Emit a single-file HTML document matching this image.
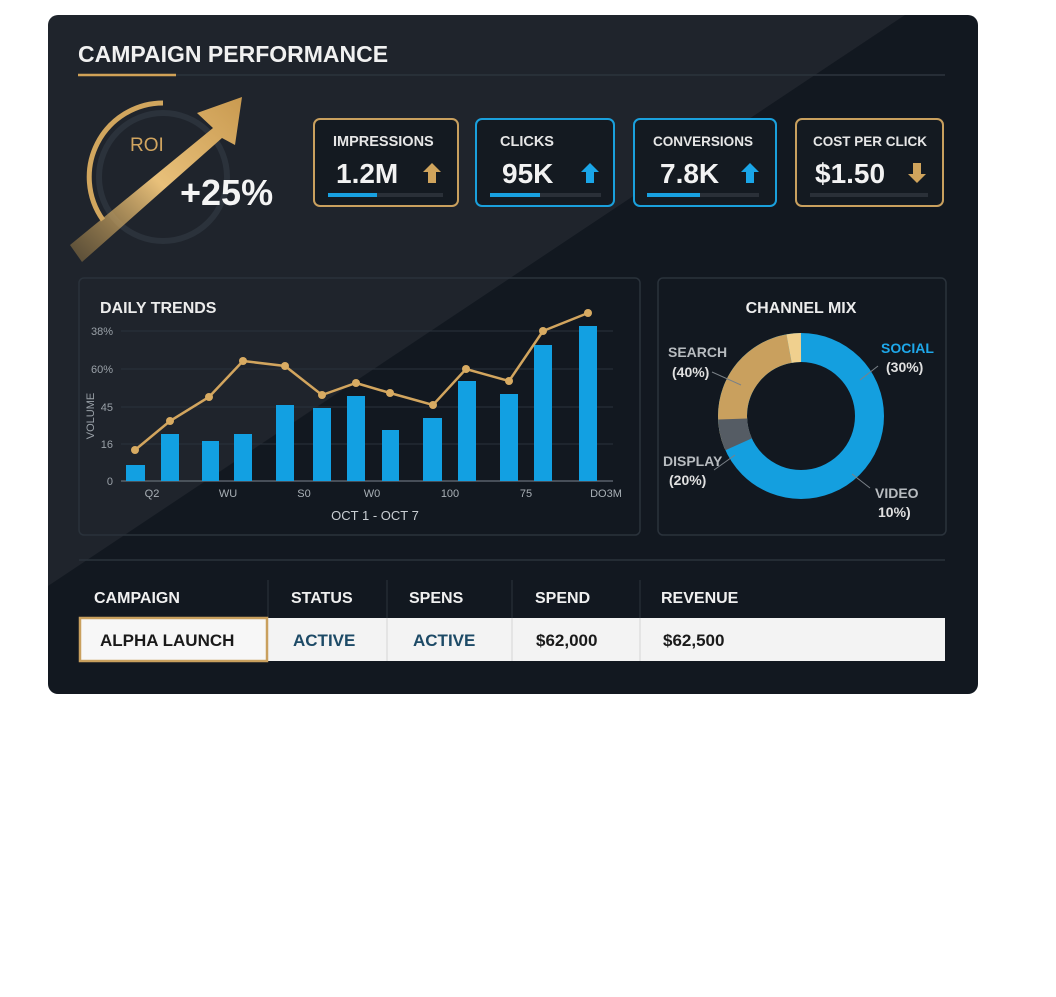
<!DOCTYPE html>
<html><head><meta charset="utf-8"><style>
html,body{margin:0;padding:0;background:#fff;}
body{width:1056px;height:992px;overflow:hidden;}
text{font-family:"Liberation Sans",sans-serif;}
</style></head><body>
<svg width="1056" height="992" viewBox="0 0 1056 992" xmlns="http://www.w3.org/2000/svg">
<defs>
<clipPath id="card"><rect x="48" y="15" width="930" height="679" rx="10"/></clipPath>
<linearGradient id="gold" x1="0" y1="1" x2="1" y2="0">
<stop offset="0" stop-color="#b8904a" stop-opacity="0.35"/>
<stop offset="0.5" stop-color="#e8c07a"/>
<stop offset="1" stop-color="#c99a50"/>
</linearGradient>
</defs>
<rect x="48" y="15" width="930" height="679" rx="10" fill="#121820"/>
<g clip-path="url(#card)">
<polygon points="48,15 905,15 48,586" fill="#ffffff" fill-opacity="0.055"/>
</g>
<text x="78" y="62" font-size="23" font-weight="bold" fill="#f1f1f1">CAMPAIGN PERFORMANCE</text>
<line x1="78" y1="75" x2="945" y2="75" stroke="#2c343d" stroke-width="1.5"/>
<line x1="78" y1="75" x2="176" y2="75" stroke="#d1a257" stroke-width="2.5"/>
<circle cx="163" cy="177" r="64" fill="none" stroke="#2b323b" stroke-width="6"/>
<path d="M163,103 A74,74 0 0 0 103,220" fill="none" stroke="#d1a65e" stroke-width="5"/>
<text x="130" y="151" font-size="19" fill="#d1a560">ROI</text>
<polygon points="70,245 213,128 197,113 242,97 235,145 222,138 82,262" fill="url(#gold)"/>
<text x="180" y="205" font-size="36" font-weight="bold" fill="#f4f4f4">+25%</text>
<g font-weight="bold">
<rect x="314" y="119" width="144" height="87" rx="6" fill="#141a21" stroke="#c9a05e" stroke-width="2"/>
<text x="333" y="146" font-size="14.5" fill="#e6e6e6">IMPRESSIONS</text>
<text x="336" y="183" font-size="28" fill="#f2f2f2">1.2M</text>
<polygon points="432,163 441,172 436,172 436,183 428,183 428,172 423,172" fill="#d0a45c"/>
<rect x="328" y="193" width="115" height="4" fill="#2a3038"/><rect x="328" y="193" width="49" height="4" fill="#18a0e0"/>

<rect x="476" y="119" width="138" height="87" rx="6" fill="#141a21" stroke="#1aa0dc" stroke-width="2"/>
<text x="500" y="146" font-size="14.5" fill="#e6e6e6">CLICKS</text>
<text x="502" y="183" font-size="28" fill="#f2f2f2">95K</text>
<polygon points="590,163 599,172 594,172 594,183 586,183 586,172 581,172" fill="#1aa6e8"/>
<rect x="490" y="193" width="111" height="4" fill="#2a3038"/><rect x="490" y="193" width="50" height="4" fill="#18a0e0"/>

<rect x="634" y="119" width="142" height="87" rx="6" fill="#141a21" stroke="#1aa0dc" stroke-width="2"/>
<text x="653" y="146" font-size="14" fill="#e6e6e6" textLength="100" lengthAdjust="spacingAndGlyphs">CONVERSIONS</text>
<text x="660" y="183" font-size="28" fill="#f2f2f2">7.8K</text>
<polygon points="750,163 759,172 754,172 754,183 746,183 746,172 741,172" fill="#1aa6e8"/>
<rect x="647" y="193" width="112" height="4" fill="#2a3038"/><rect x="647" y="193" width="53" height="4" fill="#18a0e0"/>

<rect x="796" y="119" width="147" height="87" rx="6" fill="#141a21" stroke="#c9a05e" stroke-width="2"/>
<text x="813" y="146" font-size="14" fill="#e6e6e6" textLength="114" lengthAdjust="spacingAndGlyphs">COST PER CLICK</text>
<text x="815" y="183" font-size="28" fill="#f2f2f2">$1.50</text>
<polygon points="917,183 926,174 921,174 921,163 913,163 913,174 908,174" fill="#d0a45c"/>
<rect x="810" y="193" width="118" height="4" fill="#2a3038"/>
</g>
<rect x="79" y="278" width="561" height="257" rx="5" fill="none" stroke="#2a323b" stroke-width="1.5"/>
<rect x="658" y="278" width="288" height="257" rx="5" fill="none" stroke="#2a323b" stroke-width="1.5"/>
<text x="100" y="313" font-size="16" font-weight="bold" fill="#ececec">DAILY TRENDS</text>
<g stroke="#2a323b" stroke-width="1">
<line x1="121" y1="331" x2="613" y2="331"/><line x1="121" y1="369" x2="613" y2="369"/>
<line x1="121" y1="407" x2="613" y2="407"/><line x1="121" y1="444" x2="613" y2="444"/>
</g>
<line x1="121" y1="481" x2="613" y2="481" stroke="#59616a" stroke-width="1.5"/>
<g font-size="11" fill="#9aa1a8" text-anchor="end">
<text x="113" y="335">38%</text><text x="113" y="373">60%</text>
<text x="113" y="411">45</text><text x="113" y="448">16</text><text x="113" y="485">0</text>
</g>
<text transform="translate(94,416) rotate(-90)" font-size="11" fill="#9aa1a8" text-anchor="middle">VOLUME</text>
<g fill="#12a0e2">
<rect x="126" y="465" width="19" height="16"/><rect x="161" y="434" width="18" height="47"/>
<rect x="202" y="441" width="17" height="40"/><rect x="234" y="434" width="18" height="47"/>
<rect x="276" y="405" width="18" height="76"/><rect x="313" y="408" width="18" height="73"/>
<rect x="347" y="396" width="18" height="85"/><rect x="382" y="430" width="17" height="51"/>
<rect x="423" y="418" width="19" height="63"/><rect x="458" y="381" width="18" height="100"/>
<rect x="500" y="394" width="18" height="87"/><rect x="534" y="345" width="18" height="136"/>
<rect x="579" y="326" width="18" height="155"/>
</g>
<polyline points="135,450 170,421 209,397 243,361 285,366 322,395 356,383 390,393 433,405 466,369 509,381 543,331 588,313" fill="none" stroke="#d2a55e" stroke-width="2.5"/>
<g fill="#d8ab62">
<circle cx="135" cy="450" r="4"/><circle cx="170" cy="421" r="4"/><circle cx="209" cy="397" r="4"/>
<circle cx="243" cy="361" r="4"/><circle cx="285" cy="366" r="4"/><circle cx="322" cy="395" r="4"/>
<circle cx="356" cy="383" r="4"/><circle cx="390" cy="393" r="4"/><circle cx="433" cy="405" r="4"/>
<circle cx="466" cy="369" r="4"/><circle cx="509" cy="381" r="4"/><circle cx="543" cy="331" r="4"/>
<circle cx="588" cy="313" r="4"/>
</g>
<g font-size="11" fill="#a9b0b6" text-anchor="middle">
<text x="152" y="497">Q2</text><text x="228" y="497">WU</text><text x="304" y="497">S0</text>
<text x="372" y="497">W0</text><text x="450" y="497">100</text><text x="526" y="497">75</text>
<text x="606" y="497">DO3M</text>
</g>
<text x="375" y="520" font-size="13" fill="#c9ced3" text-anchor="middle">OCT 1 - OCT 7</text>
<text x="801" y="313" font-size="16" font-weight="bold" fill="#ececec" text-anchor="middle">CHANNEL MIX</text>
<g fill="none" stroke-width="29">
<circle cx="801" cy="416" r="68.5" stroke="#149fdf"/>
<path d="M738.1,443.2 A68.5,68.5 0 0 1 732.5,416 A68.5,68.5 0 0 1 789.1,348.6" stroke="#c9a05e"/>
<path d="M738.6,444.3 A68.5,68.5 0 0 1 732.7,419" stroke="#555c64"/>
<path d="M789.1,348.6 A68.5,68.5 0 0 1 801,347.5" stroke="#f0d08e"/>
</g>
<g stroke="#7a8188" stroke-width="1">
<line x1="712" y1="372" x2="741" y2="385"/><line x1="878" y1="366" x2="860" y2="380"/>
<line x1="714" y1="470" x2="735" y2="455"/><line x1="870" y1="488" x2="852" y2="474"/>
</g>
<g font-size="14" font-weight="bold">
<text x="668" y="357" fill="#b8bcc0">SEARCH</text><text x="672" y="377" fill="#e0e0e0">(40%)</text>
<text x="881" y="353" fill="#1ea8ea">SOCIAL</text><text x="886" y="372" fill="#e0e0e0">(30%)</text>
<text x="663" y="466" fill="#b8bcc0">DISPLAY</text><text x="669" y="485" fill="#e0e0e0">(20%)</text>
<text x="875" y="498" fill="#b8bcc0">VIDEO</text><text x="878" y="517" fill="#e0e0e0">10%)</text>
</g>
<line x1="79" y1="560" x2="945" y2="560" stroke="#2a323b" stroke-width="1.5"/>
<g stroke="#2c343d" stroke-width="1"><line x1="268" y1="580" x2="268" y2="618"/><line x1="387" y1="580" x2="387" y2="618"/><line x1="512" y1="580" x2="512" y2="618"/><line x1="640" y1="580" x2="640" y2="618"/></g>
<g font-size="16" font-weight="bold" fill="#f0f0f0">
<text x="94" y="603">CAMPAIGN</text><text x="291" y="603">STATUS</text><text x="409" y="603">SPENS</text>
<text x="535" y="603">SPEND</text><text x="661" y="603">REVENUE</text>
</g>
<rect x="79" y="618" width="866" height="43" fill="#f3f3f3"/>
<g stroke="#d6d6d6"><line x1="387" y1="618" x2="387" y2="661"/><line x1="512" y1="618" x2="512" y2="661"/><line x1="640" y1="618" x2="640" y2="661"/></g>
<rect x="80" y="618" width="187" height="43" fill="#f7f7f7" stroke="#c9a05e" stroke-width="2.5"/>
<g font-size="17" font-weight="bold">
<text x="100" y="646" fill="#1a1a1a">ALPHA LAUNCH</text>
<text x="293" y="646" fill="#1d4a66">ACTIVE</text><text x="413" y="646" fill="#1d4a66">ACTIVE</text>
<text x="536" y="646" fill="#1a1a1a">$62,000</text><text x="663" y="646" fill="#1a1a1a">$62,500</text>
</g>
</svg>
</body></html>
